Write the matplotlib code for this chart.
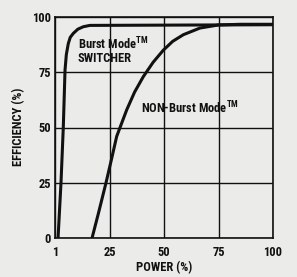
import matplotlib
matplotlib.use("Agg")
import matplotlib.pyplot as plt

# ---- data ----
x_ticks = [0, 25, 50, 75, 100]
x_tick_labels = ["1", "25", "50", "75", "100"]
y_ticks = [0, 25, 50, 75, 100]
y_tick_labels = ["0", "25", "50", "75", "100"]

burst_power = [1.4, 2.75, 3.8, 4.6, 5.2, 6.1, 7.0, 8.4, 10.5, 13, 16, 100]
burst_eff = [0, 25, 50, 76, 83, 88, 90.8, 92.6, 94.5, 95.6, 96.2, 96.5]

nonburst_power = [17, 20, 23.4, 26, 28.3, 32.9, 36.5, 40.5, 45, 49.7, 54, 58.9, 66.5, 75, 85, 100]
nonburst_eff = [0, 11.5, 25, 36, 46, 58, 66, 73, 79.5, 85, 89, 92, 95, 96.4, 96.7, 96.7]

# ---- style ----
FONT = "Roboto Condensed"
plt.rcParams["font.family"] = [FONT, "DejaVu Sans"]
plt.rcParams["font.weight"] = "bold"
plt.rcParams["mathtext.fontset"] = "custom"
plt.rcParams["mathtext.bf"] = FONT + ":bold"
plt.rcParams["mathtext.rm"] = FONT + ":bold"

bg = "#ebebe9"
ink = "#111111"

fig = plt.figure(figsize=(2.97, 2.77), dpi=100, facecolor=bg)
ax = fig.add_axes([55 / 297, 1 - 238 / 277, 218 / 297, 221 / 277], facecolor=bg)

ax.plot(burst_power, burst_eff, color=ink, lw=2.2, solid_capstyle="butt", zorder=3)
ax.plot(nonburst_power, nonburst_eff, color=ink, lw=2.2, solid_capstyle="butt", zorder=3)

ax.set_xlim(0, 100)
ax.set_ylim(0, 100)
ax.set_xticks(x_ticks)
ax.set_xticklabels(x_tick_labels)
ax.set_yticks(y_ticks)
ax.set_yticklabels(y_tick_labels)
ax.grid(True, color=ink, lw=1.0)
ax.set_axisbelow(True)
for s in ax.spines.values():
    s.set_color(ink)
    s.set_linewidth(1.2)
ax.tick_params(length=0, labelsize=9, colors=ink)
ax.tick_params(axis="y", pad=3)
ax.tick_params(axis="x", pad=6)
for lab in ax.get_xticklabels() + ax.get_yticklabels():
    lab.set_fontweight("bold")

ax.set_xlabel("POWER (%)", fontsize=9, fontweight="bold", color=ink)
ax.set_ylabel("EFFICIENCY (%)", fontsize=9, fontweight="bold", color=ink)
ax.xaxis.label.set_va("center")
ax.yaxis.label.set_va("center")
ax.xaxis.set_label_coords(0.5, -0.135)
ax.yaxis.set_label_coords(-0.168, 0.505)

ax.text(10.5, 91.5, "Burst Mode$^{\\mathbf{TM}}$\nSWITCHER", fontsize=9, fontweight="bold",
        color=ink, va="top", ha="left", linespacing=0.95)
ax.text(39.5, 58.6, "NON-Burst Mode$^{\\mathbf{TM}}$", fontsize=9, fontweight="bold",
        color=ink, va="center", ha="left")

fig.savefig("out.png", dpi=100, facecolor=bg)
